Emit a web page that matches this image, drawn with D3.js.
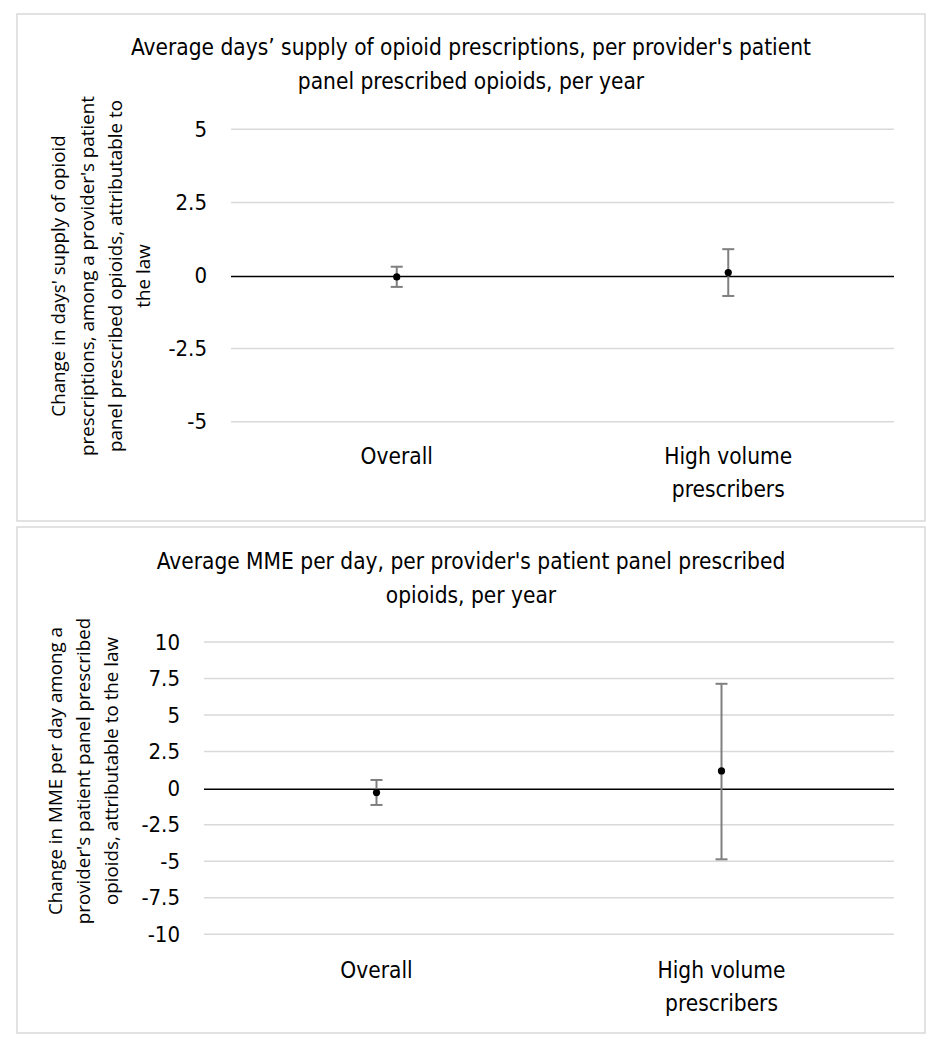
<!DOCTYPE html>
<html>
<head>
<meta charset="utf-8">
<script src="https://cdn.jsdelivr.net/npm/d3@7"></script>
<style>
  html, body { margin: 0; padding: 0; background: #fff; }
  svg { display: block; }
  .cal { font-family: "Liberation Sans Narrow", "DejaVu Sans Condensed", "Open Sans", sans-serif; }
  .seg { font-family: "Open Sans", "Noto Sans", "DejaVu Sans", sans-serif; }
</style>
</head>
<body>
<script>
// ---- data ----
const categories = ["Overall", "High volume prescribers"];
const categoryLines = [["Overall"], ["High volume", "prescribers"]];

const daysEstimate = [-0.05, 0.10];
const daysLower    = [-0.39, -0.70];
const daysUpper    = [0.30, 0.90];
const daysTicks    = [-5, -2.5, 0, 2.5, 5];

const mmeEstimate = [-0.30, 1.18];
const mmeLower    = [-1.15, -4.87];
const mmeUpper    = [0.56, 7.14];
const mmeTicks    = [-10, -7.5, -5, -2.5, 0, 2.5, 5, 7.5, 10];

const panels = [
  {
    title: ["Average days\u2019 supply of opioid prescriptions, per provider's patient", "panel prescribed opioids, per year"],
    ytitle: ["Change in days' supply of opioid", "prescriptions, among a provider's patient", "panel prescribed  opioids, attributable to", "the law"],
    est: daysEstimate, lo: daysLower, hi: daysUpper, ticks: daysTicks, domain: [-5, 5],
    box: [17, 14, 925, 521],
    plot: { x0: 231, x1: 894, y0: 129.3, y1: 421.7 },
    titleY: 55, ytitleX: [58, 87, 115, 143], ytitleY: 276, catY: 464
  },
  {
    title: ["Average MME per day, per provider's patient panel prescribed", "opioids, per year"],
    ytitle: ["Change in MME per day among a", "provider's patient panel prescribed", "opioids, attributable to the law"],
    est: mmeEstimate, lo: mmeLower, hi: mmeUpper, ticks: mmeTicks, domain: [-10, 10],
    box: [17, 527, 925, 1033],
    plot: { x0: 204, x1: 894, y0: 642, y1: 934.3 },
    titleY: 569, ytitleX: [55, 83, 111], ytitleY: 771, catY: 978
  }
];

const W = 941, H = 1050;
const svg = d3.select("body").append("svg").attr("width", W).attr("height", H);

panels.forEach(p => {
  const g = svg.append("g");
  // panel border
  g.append("rect")
    .attr("x", p.box[0]).attr("y", p.box[1])
    .attr("width", p.box[2] - p.box[0]).attr("height", p.box[3] - p.box[1])
    .attr("fill", "#fff").attr("stroke", "#d9d9d9").attr("stroke-width", 1.5);

  const y = d3.scaleLinear().domain(p.domain).range([p.plot.y1, p.plot.y0]);
  const x = d3.scaleBand().domain(categories).range([p.plot.x0, p.plot.x1]);

  // title
  const cx = (p.box[0] + p.box[2]) / 2;
  g.append("text").attr("class", "cal")
    .attr("text-anchor", "middle").attr("font-size", 22.5).attr("fill", "#000")
    .selectAll("tspan").data(p.title).join("tspan")
    .attr("x", cx).attr("y", (d, i) => p.titleY + i * 34)
    .text(d => d);

  // gridlines
  g.append("g").selectAll("line").data(p.ticks.filter(t => t !== 0)).join("line")
    .attr("x1", p.plot.x0).attr("x2", p.plot.x1)
    .attr("y1", d => y(d)).attr("y2", d => y(d))
    .attr("stroke", "#d9d9d9").attr("stroke-width", 1.5);

  // y axis (labels only)
  const yAxis = d3.axisLeft(y).tickValues(p.ticks).tickSize(0).tickPadding(24)
    .tickFormat(d => String(d));
  const ag = g.append("g").attr("transform", `translate(${p.plot.x0},0)`).call(yAxis);
  ag.select(".domain").remove();
  ag.selectAll("text").attr("class", "cal").attr("font-size", 22).attr("fill", "#000")
    .attr("font-family", null);

  // zero line
  g.append("line")
    .attr("x1", p.plot.x0).attr("x2", p.plot.x1)
    .attr("y1", y(0) + 1).attr("y2", y(0) + 1)
    .attr("stroke", "#000").attr("stroke-width", 1.5);

  // category labels
  categories.forEach((c, i) => {
    g.append("text").attr("class", "cal")
      .attr("text-anchor", "middle").attr("font-size", 22.5).attr("fill", "#000")
      .selectAll("tspan").data(categoryLines[i]).join("tspan")
      .attr("x", x(c) + x.bandwidth() / 2)
      .attr("y", (d, j) => p.catY + j * 33)
      .text(d => d);
  });

  // error bars
  const capW = 6;
  const eb = g.append("g").selectAll("g").data(categories).join("g");
  eb.append("line")
    .attr("x1", (d) => x(d) + x.bandwidth() / 2).attr("x2", (d) => x(d) + x.bandwidth() / 2)
    .attr("y1", (d, i) => y(p.lo[i])).attr("y2", (d, i) => y(p.hi[i]))
    .attr("stroke", "#7f7f7f").attr("stroke-width", 2);
  eb.append("line")
    .attr("x1", (d) => x(d) + x.bandwidth() / 2 - capW).attr("x2", (d) => x(d) + x.bandwidth() / 2 + capW)
    .attr("y1", (d, i) => y(p.lo[i])).attr("y2", (d, i) => y(p.lo[i]))
    .attr("stroke", "#7f7f7f").attr("stroke-width", 2);
  eb.append("line")
    .attr("x1", (d) => x(d) + x.bandwidth() / 2 - capW).attr("x2", (d) => x(d) + x.bandwidth() / 2 + capW)
    .attr("y1", (d, i) => y(p.hi[i])).attr("y2", (d, i) => y(p.hi[i]))
    .attr("stroke", "#7f7f7f").attr("stroke-width", 2);
  eb.append("circle")
    .attr("cx", (d) => x(d) + x.bandwidth() / 2)
    .attr("cy", (d, i) => y(p.est[i]))
    .attr("r", 3.6).attr("fill", "#000");

  // y-axis title (rotated)
  const fs = 18.8;
  const gx = p.ytitleX[0];
  const tg = g.append("g").attr("transform", `translate(${gx},${p.ytitleY}) rotate(-90)`);
  tg.append("text").attr("class", "seg")
    .attr("text-anchor", "middle").attr("font-size", fs).attr("fill", "#000")
    .selectAll("tspan").data(p.ytitle).join("tspan")
    .attr("x", 0)
    .attr("y", (d, i) => (p.ytitleX[i] - gx) + 0.36 * fs)
    .text(d => d);
});
</script>
</body>
</html>
